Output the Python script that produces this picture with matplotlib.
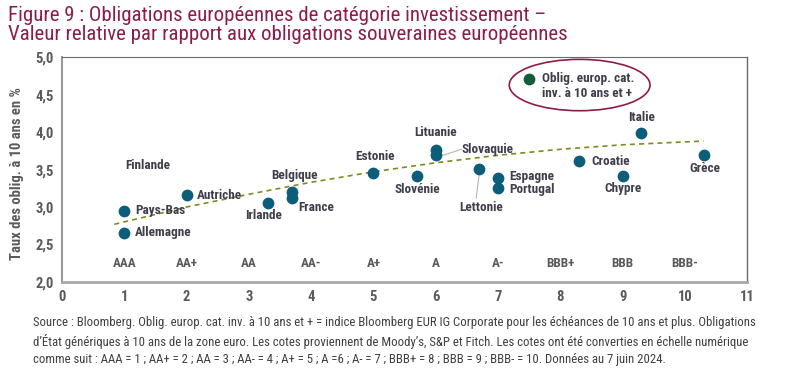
import matplotlib
matplotlib.use("Agg")
import matplotlib.pyplot as plt
from matplotlib.patches import Ellipse

plt.rcParams['font.family'] = ['Roboto Condensed', 'Liberation Sans Narrow', 'DejaVu Sans']
plt.rcParams['font.stretch'] = 'condensed'

# ---- data ----
countries = ["Allemagne", "Pays-Bas", "Autriche", "Irlande", "Belgique", "France",
             "Estonie", "Slovénie", "Lituanie", "Slovaquie", "Lettonie", "Espagne",
             "Portugal", "Croatie", "Chypre", "Italie", "Grèce"]
rating_score = [1.0, 1.0, 2.0, 3.3, 3.7, 3.7, 5.0, 5.7, 6.0, 6.0, 6.7, 7.0, 7.0,
                8.3, 9.0, 9.3, 10.3]
yield_10y = [2.66, 2.95, 3.16, 3.06, 3.20, 3.12, 3.46, 3.42, 3.76, 3.69, 3.51,
             3.39, 3.26, 3.61, 3.42, 3.99, 3.70]
ig_score = [7.5]
ig_yield = [4.71]
ig_label = "Oblig. europ. cat.\ninv. à 10 ans et +"
trend_x = [0.84, 2, 3, 4, 5, 6, 7, 8, 9, 10.3]
trend_y = [2.77, 3.00, 3.17, 3.33, 3.47, 3.59, 3.69, 3.77, 3.83, 3.88]
rating_ticks = [1, 2, 3, 4, 5, 6, 7, 8, 9, 10]
rating_labels = ["AAA", "AA+", "AA", "AA-", "A+", "A", "A-", "BBB+", "BBB", "BBB-"]
extra_label = "Finlande"

# label placement (x, y, ha)
label_pos = {
    "Allemagne": (1.17, 2.66, "left"),
    "Pays-Bas": (1.17, 2.96, "left"),
    "Autriche": (2.16, 3.15, "left"),
    "Irlande": (3.24, 2.89, "center"),
    "Belgique": (3.74, 3.42, "center"),
    "France": (3.80, 3.00, "left"),
    "Estonie": (5.02, 3.67, "center"),
    "Slovénie": (5.70, 3.24, "center"),
    "Lituanie": (5.99, 3.99, "center"),
    "Slovaquie": (6.42, 3.77, "left"),
    "Lettonie": (6.73, 3.00, "center"),
    "Espagne": (7.18, 3.41, "left"),
    "Portugal": (7.18, 3.24, "left"),
    "Croatie": (8.50, 3.61, "left"),
    "Chypre": (9.01, 3.25, "center"),
    "Italie": (9.30, 4.19, "center"),
    "Grèce": (10.32, 3.52, "center"),
}

TEAL = "#0b5d79"
TXT = "#3f3f4b"
GRAY = "#5a5a5a"
CRIMSON = "#8c1d4b"

fig = plt.figure(figsize=(8, 3.78), dpi=100)
ax = fig.add_axes([0.0775, 0.254, 0.8565, 0.595])

ax.plot(trend_x, trend_y, linestyle=(0, (3, 2.5)), color="#7f8a1e", linewidth=1.2, zorder=2)
ax.scatter(rating_score, yield_10y, s=72, color=TEAL, zorder=3, linewidths=0)
ax.scatter(ig_score, ig_yield, s=72, color="#175c3a", zorder=3, linewidths=0)

# leader lines
ax.plot([6.12, 6.41], [3.69, 3.77], color="#b5b5b5", linewidth=0.8, zorder=1)
ax.plot([6.70, 6.65], [3.46, 3.12], color="#b5b5b5", linewidth=0.8, zorder=1)

for name in countries:
    x, y, ha = label_pos[name]
    ax.text(x, y, name, ha=ha, va="center", fontsize=9.5, fontweight="bold", color=TXT, zorder=4)
ax.text(1.02, 3.56, extra_label, ha="left", va="center", fontsize=9.5, fontweight="bold", color=TXT)

ax.text(7.70, 4.62, ig_label, ha="left", va="center", fontsize=9.5, fontweight="bold",
        color=TXT, linespacing=1.2)
ax.add_patch(Ellipse((8.31, 4.627), 2.26, 0.685, fill=False, edgecolor=CRIMSON, linewidth=1.2))

for xt, lab in zip(rating_ticks, rating_labels):
    ax.text(xt, 2.24, lab, ha="center", va="center", fontsize=9.5, fontweight="bold", color=GRAY)

ax.set_xlim(0, 11)
ax.set_ylim(2.0, 5.0)
ax.set_xticks(range(0, 12))
ax.set_yticks([2.0, 2.5, 3.0, 3.5, 4.0, 4.5, 5.0])
ax.set_yticklabels([f"{v:.1f}".replace(".", ",") for v in [2.0, 2.5, 3.0, 3.5, 4.0, 4.5, 5.0]])
ax.tick_params(length=0, labelsize=10.5, colors=GRAY, pad=6)
for lab in ax.get_xticklabels() + ax.get_yticklabels():
    lab.set_fontweight("bold")

ax.spines["left"].set_color("#9a9a9a")
ax.spines["left"].set_linewidth(1.5)
ax.spines["bottom"].set_color("#a8a8a8")
ax.spines["bottom"].set_linewidth(2)
ax.spines["top"].set_color("#6a6a6a")
ax.spines["top"].set_linewidth(0.8)
ax.spines["right"].set_color("#6a6a6a")
ax.spines["right"].set_linewidth(1.0)

ax.set_ylabel("Taux des oblig. à 10 ans en %", fontsize=10.5, fontweight="bold", color=GRAY)
ax.yaxis.set_label_coords(-0.055, 0.48)

fig.text(0.01, 0.985, "Figure 9 : Obligations européennes de catégorie investissement –\n"
         "Valeur relative par rapport aux obligations souveraines européennes",
         ha="left", va="top", fontsize=15, color=CRIMSON, linespacing=1.05)

fig.text(0.041, 0.165,
         "Source : Bloomberg. Oblig. europ. cat. inv. à 10 ans et + = indice Bloomberg EUR IG Corporate pour les échéances de 10 ans et plus. Obligations\n"
         "d’État génériques à 10 ans de la zone euro. Les cotes proviennent de Moody’s, S&P et Fitch. Les cotes ont été converties en échelle numérique\n"
         "comme suit : AAA = 1 ; AA+ = 2 ; AA = 3 ; AA- = 4 ; A+ = 5 ; A =6 ; A- = 7 ; BBB+ = 8 ; BBB = 9 ; BBB- = 10. Données au 7 juin 2024.",
         ha="left", va="top", fontsize=9.2, color="#404040", linespacing=1.42)

fig.savefig("out.png", dpi=100)
